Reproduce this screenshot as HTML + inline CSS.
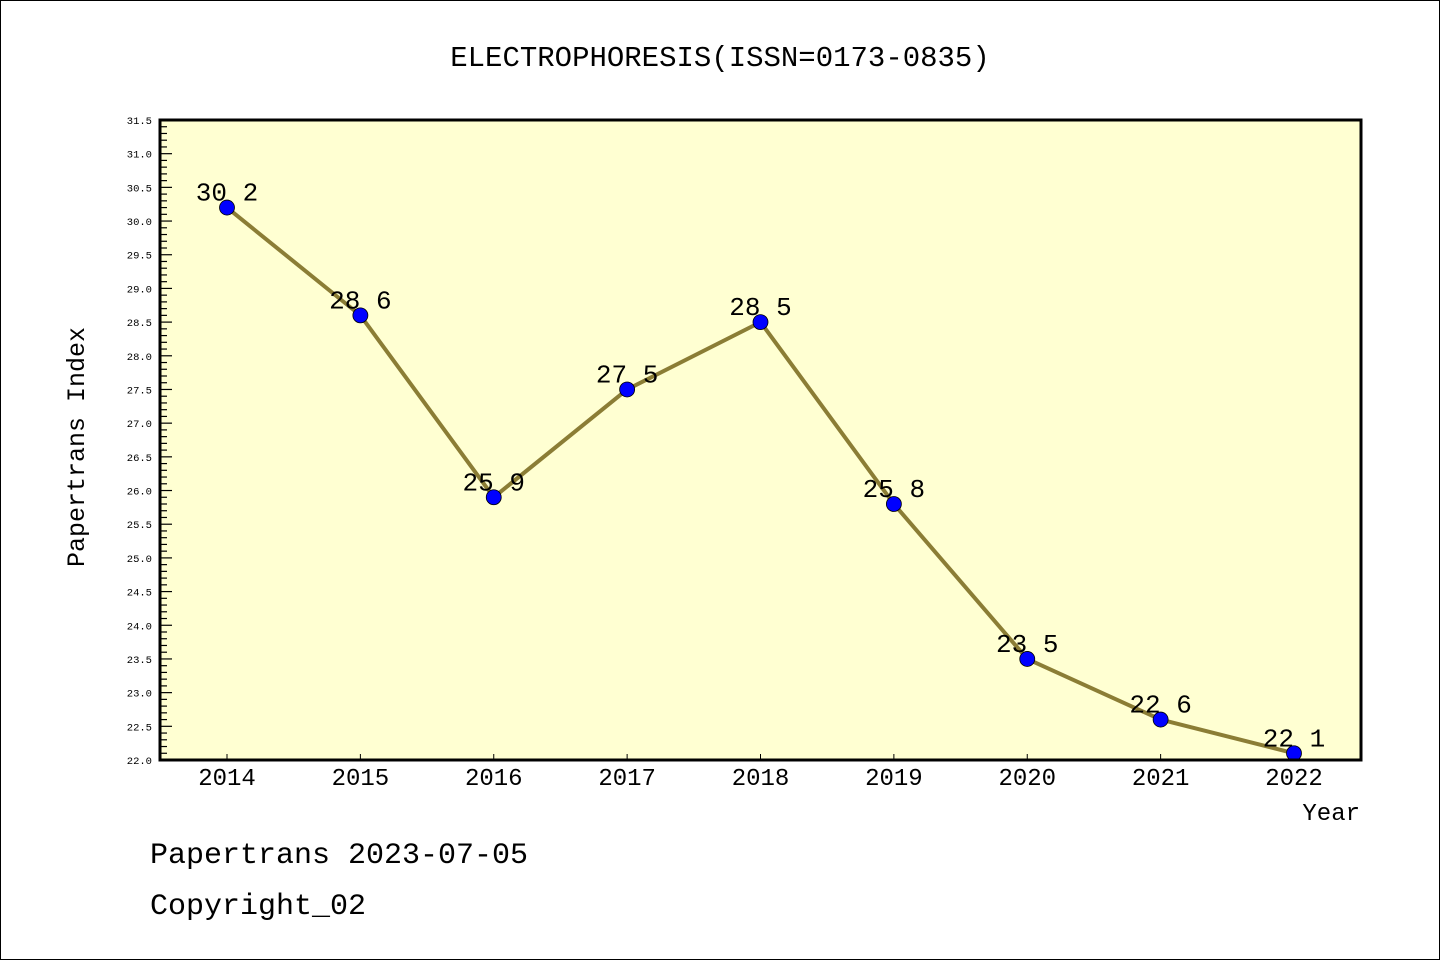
<!DOCTYPE html>
<html><head><meta charset="utf-8"><style>
html,body{margin:0;padding:0;background:#fff}
svg{display:block;font-family:"Liberation Mono","DejaVu Sans Mono",monospace}
</style></head><body>
<svg id="chart" width="1440" height="960" xmlns="http://www.w3.org/2000/svg">
<rect x="0.5" y="0.5" width="1439" height="959" fill="#fff" stroke="#000"/>
<text x="720" y="66" text-anchor="middle" font-size="29">ELECTROPHORESIS(ISSN=0173-0835)</text>
<rect x="160" y="120" width="1201" height="640" fill="#ffffd2"/>
<g id="yticks"></g>
<g id="xticks"></g>
<g id="series"></g>
<rect x="160" y="120" width="1201" height="640" fill="none" stroke="#000" stroke-width="3"/>
<text x="84" y="447" transform="rotate(-90 84 447)" text-anchor="middle" font-size="25">Papertrans Index</text>
<text x="1360" y="820" text-anchor="end" font-size="24">Year</text>
<text x="150" y="863" font-size="30">Papertrans 2023-07-05</text>
<text x="150" y="914" font-size="30">Copyright_02</text>
</svg>
<script>
const categories=["2014","2015","2016","2017","2018","2019","2020","2021","2022"];
const values=[30.2,28.6,25.9,27.5,28.5,25.8,23.5,22.6,22.1];
const yTickLabels=["22.0","22.5","23.0","23.5","24.0","24.5","25.0","25.5","26.0","26.5","27.0","27.5","28.0","28.5","29.0","29.5","30.0","30.5","31.0","31.5"];
const NS="http://www.w3.org/2000/svg";
const yMin=22.0,yMax=31.5,yTop=120,yBot=760,xLeft=160;
function yS(v){return yBot-(v-yMin)/(yMax-yMin)*(yBot-yTop);}
function xS(i){return 227+i*(1294-227)/(categories.length-1);}
function mk(t,a,p){const e=document.createElementNS(NS,t);for(const k in a)e.setAttribute(k,a[k]);p.appendChild(e);return e;}
const yg=document.getElementById('yticks');
for(let k=0;k<=Math.round((yMax-yMin)*10);k++){
  const v=yMin+k*0.1,y=yS(v),major=k%5===0;
  const t=mk('line',{x1:xLeft,x2:xLeft+(major?12:7),y1:y,y2:y,stroke:'#000','stroke-width':1.2},yg);
  
  
}
yTickLabels.forEach(s=>{
  const tx=mk('text',{x:152,y:yS(parseFloat(s))+4,'text-anchor':'end','font-size':10.5},yg);
  tx.textContent=s;
  
  
});
const xg=document.getElementById('xticks');
categories.forEach((c,i)=>{
  const t=mk('line',{x1:xS(i),x2:xS(i),y1:yBot,y2:yBot-6,stroke:'#000','stroke-width':1},xg);
  
  
  const tx=mk('text',{x:xS(i),y:785,'text-anchor':'middle','font-size':24},xg);
  tx.textContent=c;
  
  
});
const sg=document.getElementById('series');
const pts=values.map((v,i)=>xS(i)+','+yS(v)).join(' ');
const pl=mk('polyline',{points:pts,fill:'none',stroke:'#8b7d35','stroke-width':4,'stroke-linejoin':'round'},sg);


values.forEach((v,i)=>{
  const c=mk('circle',{cx:xS(i),cy:yS(v),r:7.5,fill:'#0000ff',stroke:'#000','stroke-width':0.8},sg);
  
  
  const tx=mk('text',{x:xS(i),y:yS(v)-7,'text-anchor':'middle','font-size':26},sg);
  tx.textContent=v.toFixed(1).replace('.',' ');
  
  
});
</script>
</body></html>
